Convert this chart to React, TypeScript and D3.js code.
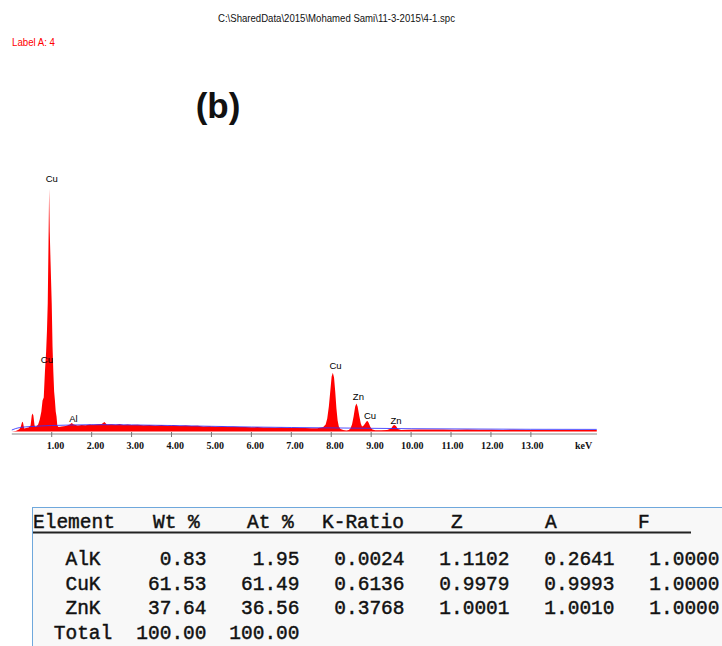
import React from "react";
import * as d3 from "d3";

// EDS spectrum (red), energy in keV and intensity in counts
const spectrumKeV = [
  0.0, 0.1, 0.18, 0.22, 0.26, 0.28, 0.31, 0.36, 0.42, 0.47, 0.5, 0.52, 0.54, 0.57,
  0.6, 0.66, 0.7, 0.74, 0.77, 0.8, 0.83, 0.86, 0.88, 0.9, 0.92, 0.935, 0.95, 0.97,
  1.0, 1.02, 1.04, 1.06, 1.08, 1.1, 1.12, 1.14, 1.17, 1.25, 1.35, 1.45, 1.5, 1.55,
  1.65, 1.75, 1.85, 1.95, 2.05, 2.15, 2.25, 2.32, 2.38, 2.5, 2.6, 2.7, 2.8, 2.9,
  3.0, 3.15, 3.3, 3.45, 3.6, 3.75, 3.9, 4.05, 4.2, 4.35, 4.5, 4.65, 4.8, 4.95,
  5.1, 5.25, 5.4, 5.55, 5.7, 5.85, 6.0, 6.15, 6.3, 6.45, 6.6, 6.75, 6.9, 7.05,
  7.2, 7.35, 7.5, 7.65, 7.75, 7.8, 7.86, 7.9, 7.94, 7.98, 8.01, 8.04, 8.07, 8.1,
  8.13, 8.16, 8.19, 8.23, 8.3, 8.38, 8.44, 8.48, 8.52, 8.56, 8.6, 8.63, 8.66, 8.7,
  8.74, 8.77, 8.8, 8.84, 8.88, 8.91, 8.94, 8.98, 9.03, 9.1, 9.25, 9.4, 9.5, 9.55,
  9.58, 9.62, 9.67, 9.75, 9.9, 10.2, 10.5, 10.8, 11.1, 11.4, 11.7, 12.0, 12.3,
  12.6, 12.9, 13.2, 13.5, 13.8, 14.1, 14.4, 14.65,
];
const spectrumCounts = [
  0, 5, 20, 40, 98, 90, 30, 35, 40, 60, 160, 180, 160, 60,
  45, 70, 120, 200, 310, 340, 600, 800, 1000, 1280, 1900, 2430, 2000, 1700,
  1280, 850, 600, 400, 310, 200, 150, 60, 45, 50, 55, 70, 85, 70,
  60, 65, 62, 70, 68, 72, 75, 95, 70, 72, 68, 74, 66, 70,
  65, 68, 62, 66, 60, 64, 58, 62, 56, 60, 54, 57, 50, 53,
  48, 50, 46, 48, 44, 46, 42, 44, 40, 41, 38, 40, 36, 37,
  34, 35, 32, 33, 40, 45, 70, 130, 250, 420, 550, 588, 540, 400,
  230, 110, 50, 25, 15, 10, 15, 30, 70, 150, 250, 280, 250, 160,
  80, 50, 55, 75, 100, 105, 85, 45, 20, 12, 12, 15, 30, 60,
  65, 55, 25, 15, 18, 20, 19, 21, 18, 19, 17, 18, 16,
  17, 15, 16, 15, 16, 14, 15, 14,
];

// Fitted background (blue)
const backgroundKeV = [0.0, 0.2, 0.5, 1.0, 1.5, 2.0, 2.5, 3.0, 4.0, 5.0, 6.0, 7.0, 8.0, 9.0, 10.0, 11.0, 12.0, 13.0, 14.65];
const backgroundCounts = [15, 40, 50, 60, 65, 68, 68, 66, 60, 52, 45, 40, 36, 32, 28, 26, 24, 22, 21];

// Peak identification labels
const peakNames = ["Cu", "Cu", "Al", "Cu", "Zn", "Cu", "Zn"];
const peakLabelKeV = [1.0, 0.88, 1.545, 8.107, 8.68, 8.97, 9.62];
const peakLabelCounts = [2495, 685, 100, 630, 315, 130, 80];

const tickValues = [1, 2, 3, 4, 5, 6, 7, 8, 9, 10, 11, 12, 13];

// Quantification table
const tableHeaders = ["Element", "Wt %", "At %", "K-Ratio", "Z", "A", "F"];
const elements = ["AlK", "CuK", "ZnK", "Total"];
const wtPercent = ["0.83", "61.53", "37.64", "100.00"];
const atPercent = ["1.95", "61.49", "36.56", "100.00"];
const kRatio = ["0.0024", "0.6136", "0.3768", ""];
const zFactor = ["1.1102", "0.9979", "1.0001", ""];
const aFactor = ["0.2641", "0.9993", "1.0010", ""];
const fFactor = ["1.0000", "1.0000", "1.0000", ""];

const W = 722;
const H = 646;

export default function App() {
  const x = d3.scaleLinear().domain([0, 14.65]).range([11.8, 11.8 + 39.93 * 14.65]);
  const y = d3.scaleLinear().domain([0, 2500]).range([431.5, 181.5]);

  const spectrum = spectrumKeV.map((k, i) => [k, spectrumCounts[i]] as [number, number]);
  const background = backgroundKeV.map((k, i) => [k, backgroundCounts[i]] as [number, number]);

  const area = d3
    .area<[number, number]>()
    .x((d) => x(d[0]))
    .y0(y(0))
    .y1((d) => y(d[1]));
  const line = d3
    .line<[number, number]>()
    .x((d) => x(d[0]))
    .y((d) => y(d[1]))
    .curve(d3.curveMonotoneX);

  const axisY = 434;
  const fmt = d3.format(".2f");

  const mono = "'Liberation Mono', 'Courier New', monospace";
  const monoStyle = { fontFamily: mono, fontSize: 19.5, fill: "#111", stroke: "#111", strokeWidth: 0.45 };
  const headerX = [33, 153, 247, 322, 451, 545, 638];
  const rowBase = [565, 589.5, 614, 638.5];
  const cols = [
    { vals: wtPercent, right: 206.5 },
    { vals: atPercent, right: 299.5 },
    { vals: kRatio, right: 404.5 },
    { vals: zFactor, right: 509.5 },
    { vals: aFactor, right: 614.5 },
    { vals: fFactor, right: 719.5 },
  ];

  return (
    <svg
      width={W}
      height={H}
      viewBox={`0 0 ${W} ${H}`}
      style={{ position: "absolute", left: 0, top: 0, background: "#fff" }}
    >
      <text
        x={218}
        y={22}
        fontFamily="'Liberation Sans', Arial, sans-serif"
        fontSize={10.5}
        textLength={237}
        lengthAdjust="spacingAndGlyphs"
        fill="#111"
      >
        {"C:\\SharedData\\2015\\Mohamed Sami\\11-3-2015\\4-1.spc"}
      </text>
      <text
        x={12}
        y={45.5}
        fontFamily="'Liberation Sans', Arial, sans-serif"
        fontSize={10}
        textLength={43}
        lengthAdjust="spacingAndGlyphs"
        fill="#f00"
      >
        Label A: 4
      </text>
      <text
        x={218}
        y={118}
        textAnchor="middle"
        fontFamily="'Liberation Sans', Arial, sans-serif"
        fontWeight="bold"
        fontSize={35}
        fill="#111"
      >
        (b)
      </text>

      {/* spectrum */}
      <path d={area(spectrum) ?? ""} fill="#ff0000" />
      <path d={line(background) ?? ""} fill="none" stroke="#3333ff" strokeWidth={1} opacity={0.85} />

      {peakNames.map((n, i) => (
        <text
          key={i}
          x={x(peakLabelKeV[i])}
          y={y(peakLabelCounts[i])}
          textAnchor="middle"
          fontFamily="'Liberation Sans', Arial, sans-serif"
          fontSize={9.5}
          fill="#000"
        >
          {n}
        </text>
      ))}

      {/* energy axis */}
      <line x1={x(0)} x2={597} y1={axisY} y2={axisY} stroke="#888" strokeWidth={1} />
      {tickValues.map((t) => (
        <g key={t}>
          <line x1={x(t)} x2={x(t)} y1={axisY - 2} y2={axisY + 3} stroke="#777" strokeWidth={1} />
          <text
            x={x(t) + 12.5}
            y={448.5}
            textAnchor="end"
            fontFamily="'Liberation Serif', 'Times New Roman', serif"
            fontWeight="bold"
            fontSize={10}
            fill="#111"
          >
            {fmt(t)}
          </text>
        </g>
      ))}
      <text
        x={575}
        y={448.5}
        fontFamily="'Liberation Serif', 'Times New Roman', serif"
        fontWeight="bold"
        fontSize={10}
        fill="#111"
      >
        keV
      </text>

      {/* quantification table */}
      <rect x={32.5} y={507.5} width={W} height={H} fill="#f8f8f8" stroke="#6fa8dc" strokeWidth={1} />
      {tableHeaders.map((h, i) => (
        <text key={h} x={headerX[i]} y={528} {...monoStyle} xmlSpace="preserve">
          {h}
        </text>
      ))}
      <line x1={33} x2={691} y1={532.5} y2={532.5} stroke="#222" strokeWidth={2} />
      {elements.map((e, r) => (
        <g key={e}>
          <text x={83} y={rowBase[r]} textAnchor="middle" {...monoStyle}>
            {e}
          </text>
          {cols.map((c, ci) => (
            <text key={ci} x={c.right} y={rowBase[r]} textAnchor="end" {...monoStyle}>
              {c.vals[r]}
            </text>
          ))}
        </g>
      ))}
    </svg>
  );
}
